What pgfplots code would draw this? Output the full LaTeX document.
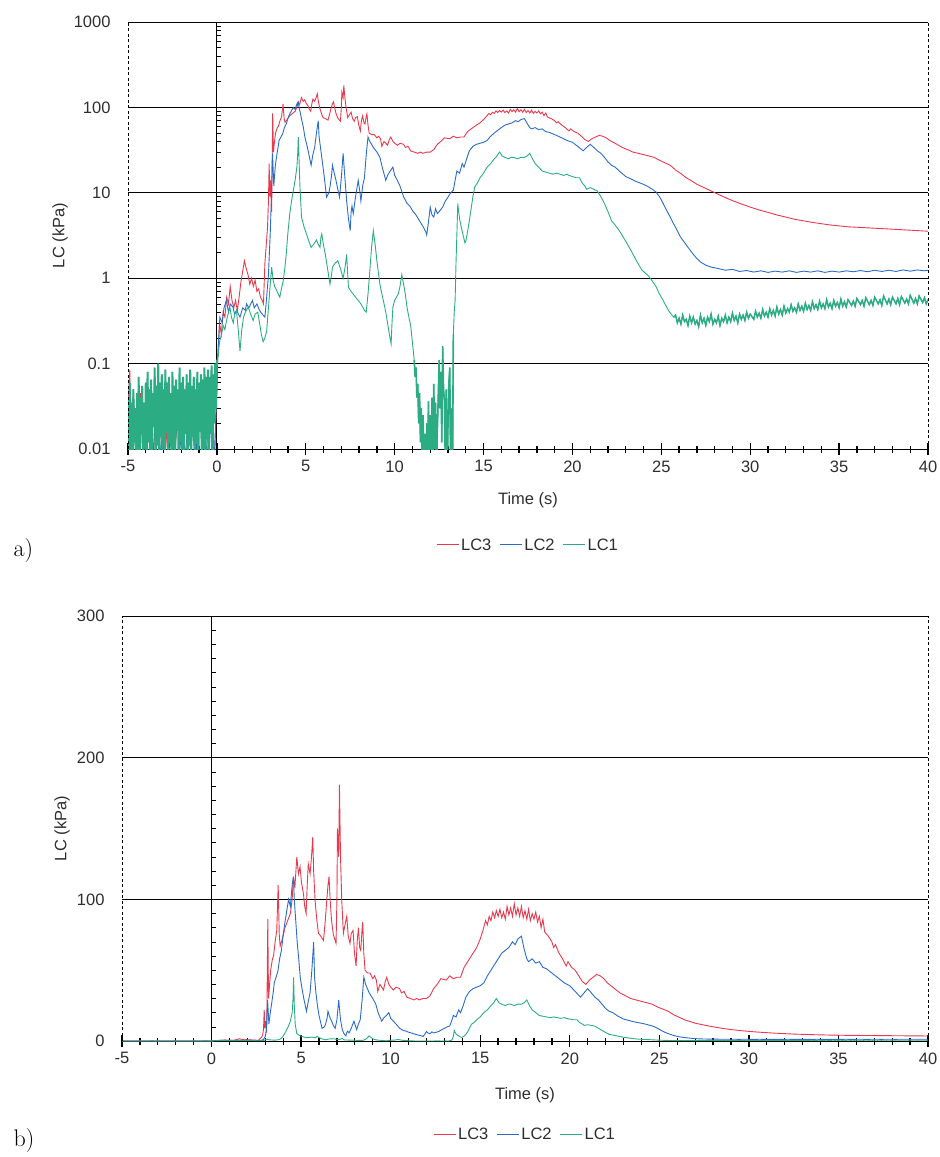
\documentclass[border=0pt]{standalone}
\usepackage{fontspec}
\setsansfont{Liberation Sans}
\usepackage{pgfplots}
\usepackage{pgfplotstable}
\pgfplotsset{compat=1.18}
\definecolor{cred}{RGB}{232,58,78}
\definecolor{cblue}{RGB}{42,108,198}
\definecolor{cgreen}{RGB}{44,172,130}

\pgfplotstableread[row sep=\\]{x y\\
-5.0 0.03\\ -4.9 0.085\\ -4.8 0.004\\ -4.7 0.05\\ -4.5 0.006\\ -4.3 0.045\\ -4.1 0.003\\ -3.9 0.035\\ -3.6 0.008\\ -3.3 0.06\\
-3.0 0.004\\ -2.7 0.04\\ -2.4 0.007\\ -2.1 0.05\\ -1.8 0.003\\ -1.5 0.045\\ -1.2 0.006\\ -0.9 0.055\\ -0.6 0.004\\ -0.3 0.09\\
-0.15 0.005\\ 0.0 0.06\\ 0.05 0.12\\ 0.15 0.3\\ 0.25 0.22\\ 0.35 0.4\\ 0.45 0.35\\ 0.55 0.6\\ 0.65 0.5\\ 0.75 0.8\\
0.85 0.55\\ 0.95 0.45\\ 1.05 0.55\\ 1.15 0.42\\ 1.25 0.6\\ 1.35 0.9\\ 1.45 1.2\\ 1.55 1.6\\ 1.65 1.3\\ 1.75 1.1\\
1.85 0.85\\ 1.95 1.0\\ 2.05 0.8\\ 2.15 0.95\\ 2.25 0.7\\ 2.35 0.75\\ 2.45 0.6\\ 2.55 0.55\\ 2.62 0.5\\ 2.7 1.5\\
2.78 2.5\\ 2.85 4\\ 2.9 8\\ 2.94 22\\ 2.98 9\\ 3.02 14\\ 3.08 6\\ 3.14 86\\ 3.18 30\\ 3.23 38\\
3.3 50\\ 3.4 58\\ 3.46 60\\ 3.55 70\\ 3.64 78\\ 3.72 110\\ 3.78 75\\ 3.83 67\\ 3.95 72\\ 4.1 80\\
4.25 85\\ 4.4 90\\ 4.5 100\\ 4.57 116\\ 4.65 108\\ 4.76 130\\ 4.85 118\\ 4.94 123\\ 5.02 112\\ 5.13 104\\
5.2 95\\ 5.28 90\\ 5.34 110\\ 5.4 125\\ 5.5 118\\ 5.58 130\\ 5.65 144\\ 5.7 120\\ 5.78 99\\ 5.88 85\\
5.97 76\\ 6.1 74\\ 6.25 71\\ 6.35 85\\ 6.43 99\\ 6.5 110\\ 6.56 116\\ 6.62 100\\ 6.7 85\\ 6.8 75\\
6.95 69\\ 7.0 100\\ 7.03 150\\ 7.1 130\\ 7.14 181\\ 7.2 130\\ 7.27 99\\ 7.36 76\\ 7.45 82\\ 7.55 88\\
7.63 74\\ 7.73 69\\ 7.8 76\\ 7.9 78\\ 7.98 62\\ 8.07 53\\ 8.13 70\\ 8.2 80\\ 8.27 66\\ 8.33 64\\
8.4 78\\ 8.44 84\\ 8.5 62\\ 8.57 50\\ 8.7 48\\ 8.85 48\\ 9.0 44\\ 9.1 46\\ 9.2 43\\ 9.28 35\\
9.4 40\\ 9.5 38\\ 9.6 36\\ 9.7 42\\ 9.78 45\\ 9.9 40\\ 10.0 38\\ 10.15 36\\ 10.3 38\\ 10.5 37\\
10.6 34\\ 10.75 35\\ 10.9 31\\ 11.1 30\\ 11.3 29\\ 11.45 30\\ 11.6 29\\ 11.8 30\\ 12.0 30\\ 12.2 32\\
12.4 37\\ 12.6 40\\ 12.8 44\\ 13.1 43\\ 13.3 46\\ 13.5 44\\ 13.7 45\\ 13.9 45\\ 14.1 52\\ 14.25 55\\
14.4 58\\ 14.6 62\\ 14.8 66\\ 15.0 72\\ 15.15 78\\ 15.3 85\\ 15.4 82\\ 15.5 88\\ 15.6 85\\ 15.7 91\\
15.8 87\\ 15.9 92\\ 16.0 88\\ 16.1 93\\ 16.2 87\\ 16.3 91\\ 16.4 86\\ 16.5 95\\ 16.6 89\\ 16.7 94\\
16.8 88\\ 16.9 97\\ 17.0 89\\ 17.1 94\\ 17.2 88\\ 17.3 95\\ 17.4 87\\ 17.5 92\\ 17.6 86\\ 17.7 93\\
17.8 85\\ 17.9 90\\ 18.0 86\\ 18.1 91\\ 18.2 84\\ 18.3 88\\ 18.4 80\\ 18.5 86\\ 18.6 77\\ 18.8 74\\
19.0 70\\ 19.1 66\\ 19.2 68\\ 19.4 62\\ 19.6 58\\ 19.8 53\\ 19.9 56\\ 20.1 52\\ 20.3 50\\ 20.5 46\\
20.7 42\\ 20.9 40\\ 21.1 43\\ 21.3 45\\ 21.5 47\\ 21.7 46\\ 21.9 44\\ 22.1 41\\ 22.3 39\\ 22.5 37\\
22.8 34\\ 23.1 32\\ 23.4 30\\ 23.7 29\\ 24.0 28\\ 24.3 27\\ 24.6 26\\ 24.9 24\\ 25.2 22.5\\ 25.5 21\\
25.8 18.5\\ 26.1 16.8\\ 26.4 15\\ 26.7 13.8\\ 27.0 12.6\\ 27.4 11.5\\ 27.8 10.5\\ 28.2 9.6\\ 28.6 8.8\\ 29.0 8.1\\
29.5 7.4\\ 30.0 6.8\\ 30.5 6.3\\ 31.0 5.9\\ 31.5 5.5\\ 32.0 5.2\\ 32.5 4.9\\ 33.0 4.7\\ 33.5 4.5\\ 34.0 4.35\\
34.5 4.2\\ 35.0 4.1\\ 35.5 4.0\\ 36.0 3.95\\ 36.5 3.9\\ 37.0 3.85\\ 37.5 3.8\\ 38.0 3.75\\ 38.5 3.7\\ 39.0 3.65\\
39.5 3.6\\ 40.0 3.55\\
}\lcthree

\pgfplotstableread[row sep=\\]{x y\\
-5.0 0.01\\ -4.85 0.004\\ -4.6 0.03\\ -4.3 0.005\\ -4.0 0.02\\ -3.7 0.003\\ -3.4 0.04\\ -3.1 0.006\\ -2.8 0.025\\ -2.5 0.004\\
-2.2 0.03\\ -1.9 0.005\\ -1.6 0.02\\ -1.3 0.003\\ -1.0 0.035\\ -0.7 0.005\\ -0.4 0.03\\ -0.2 0.004\\ 0.0 0.05\\ 0.05 0.12\\
0.17 0.35\\ 0.3 0.3\\ 0.4 0.45\\ 0.54 0.55\\ 0.65 0.4\\ 0.75 0.5\\ 0.9 0.46\\ 1.0 0.38\\ 1.1 0.42\\ 1.3 0.35\\
1.45 0.45\\ 1.6 0.42\\ 1.67 0.5\\ 1.8 0.45\\ 2.0 0.55\\ 2.1 0.45\\ 2.25 0.5\\ 2.4 0.42\\ 2.55 0.38\\ 2.7 0.35\\
2.8 0.6\\ 2.9 1.1\\ 3.0 3.3\\ 3.06 8\\ 3.13 29\\ 3.2 12\\ 3.28 20\\ 3.35 26\\ 3.45 35\\ 3.5 41\\
3.6 45\\ 3.7 49\\ 3.8 58\\ 3.9 64\\ 4.0 75\\ 4.1 84\\ 4.2 92\\ 4.3 100\\ 4.4 95\\ 4.5 110\\
4.57 116\\ 4.62 100\\ 4.7 85\\ 4.78 70\\ 4.86 59\\ 4.95 45\\ 5.05 37\\ 5.15 30\\ 5.3 21\\ 5.4 28\\
5.5 34\\ 5.6 50\\ 5.7 70\\ 5.75 45\\ 5.82 35\\ 5.9 26\\ 6.0 18\\ 6.17 8.9\\ 6.3 10\\ 6.36 11.7\\
6.45 16\\ 6.5 21\\ 6.6 17\\ 6.7 14\\ 6.8 11\\ 6.9 8.9\\ 7.0 15\\ 7.1 29\\ 7.2 15\\ 7.3 8\\
7.4 5\\ 7.5 3.6\\ 7.55 6\\ 7.6 7\\ 7.67 5.7\\ 7.8 9\\ 7.95 14\\ 8.05 10\\ 8.1 8\\ 8.2 12\\
8.3 15\\ 8.4 28\\ 8.5 45\\ 8.6 40\\ 8.7 37\\ 8.8 34\\ 9.0 30\\ 9.17 26\\ 9.3 20\\ 9.5 14\\
9.6 16\\ 9.75 18\\ 9.9 20\\ 10.0 16\\ 10.15 14\\ 10.3 12\\ 10.5 9\\ 10.7 7.5\\ 10.85 7\\ 11.0 6.2\\
11.2 5.5\\ 11.4 4.7\\ 11.6 4\\ 11.75 3.5\\ 11.8 3.2\\ 11.9 4.5\\ 12.0 6.8\\ 12.1 5.5\\ 12.2 5.2\\ 12.3 6.5\\
12.4 5.7\\ 12.55 6.2\\ 12.7 6.8\\ 12.85 8\\ 13.0 8.9\\ 13.15 10\\ 13.3 10.7\\ 13.4 14\\ 13.5 18\\ 13.65 17\\
13.8 22\\ 13.9 20\\ 14.05 25\\ 14.2 31\\ 14.4 35\\ 14.6 37\\ 14.8 38\\ 15.0 39\\ 15.2 41\\ 15.4 46\\
15.6 50\\ 15.8 54\\ 16.0 58\\ 16.2 62\\ 16.4 64\\ 16.6 66\\ 16.8 70\\ 16.95 68\\ 17.1 72\\ 17.3 74\\
17.45 65\\ 17.6 58\\ 17.7 56\\ 17.9 58\\ 18.1 55\\ 18.3 56\\ 18.5 52\\ 18.7 51\\ 18.9 49\\ 19.1 47\\
19.3 45\\ 19.5 43\\ 19.7 41\\ 20.0 39\\ 20.3 35\\ 20.6 31\\ 20.8 34\\ 21.0 37\\ 21.2 34\\ 21.4 31\\
21.6 29\\ 21.8 26\\ 22.0 23\\ 22.2 21\\ 22.4 20\\ 22.7 17.5\\ 23.0 15.5\\ 23.3 14.5\\ 23.6 13.5\\ 23.9 12.8\\
24.2 12\\ 24.5 11\\ 24.7 10.2\\ 24.9 9\\ 25.1 7.5\\ 25.3 6.2\\ 25.5 5.2\\ 25.7 4.3\\ 25.9 3.6\\ 26.05 3.1\\
26.2 2.8\\ 26.5 2.3\\ 26.8 1.9\\ 27.0 1.7\\ 27.2 1.55\\ 27.5 1.42\\ 27.8 1.35\\ 28.2 1.3\\ 28.6 1.24\\ 29.0 1.27\\
29.4 1.2\\ 29.8 1.23\\ 30.2 1.18\\ 30.6 1.22\\ 31.0 1.17\\ 31.4 1.21\\ 31.8 1.18\\ 32.2 1.22\\ 32.6 1.17\\ 33.0 1.21\\
33.4 1.18\\ 33.8 1.22\\ 34.2 1.17\\ 34.6 1.21\\ 35.0 1.18\\ 35.4 1.22\\ 35.8 1.19\\ 36.2 1.23\\ 36.6 1.19\\ 37.0 1.24\\
37.4 1.2\\ 37.8 1.24\\ 38.2 1.2\\ 38.6 1.25\\ 39.0 1.21\\ 39.4 1.25\\ 39.8 1.22\\ 40.0 1.24\\
}\lctwo

\pgfplotstableread[row sep=\\]{x y\\
-5.00 0.04\\ -4.95 0.005\\ -4.90 0.06\\ -4.85 0.008\\ -4.80 0.035\\ -4.75 0.004\\ -4.70 0.05\\ -4.65 0.012\\ -4.60 0.03\\ -4.55 0.003\\
-4.50 0.045\\ -4.45 0.009\\ -4.40 0.07\\ -4.35 0.006\\ -4.30 0.04\\ -4.25 0.015\\ -4.20 0.055\\ -4.15 0.004\\ -4.10 0.035\\ -4.05 0.01\\
-4.00 0.06\\ -3.95 0.005\\ -3.90 0.08\\ -3.85 0.012\\ -3.80 0.05\\ -3.75 0.003\\ -3.70 0.065\\ -3.65 0.009\\ -3.60 0.045\\ -3.55 0.018\\
-3.50 0.09\\ -3.45 0.006\\ -3.40 0.055\\ -3.35 0.011\\ -3.30 0.1\\ -3.25 0.004\\ -3.20 0.06\\ -3.15 0.014\\ -3.10 0.075\\ -3.05 0.007\\
-3.00 0.05\\ -2.95 0.003\\ -2.90 0.085\\ -2.85 0.016\\ -2.80 0.06\\ -2.75 0.008\\ -2.70 0.07\\ -2.65 0.012\\ -2.60 0.045\\ -2.55 0.005\\
-2.50 0.08\\ -2.45 0.01\\ -2.40 0.055\\ -2.35 0.004\\ -2.30 0.065\\ -2.25 0.017\\ -2.20 0.05\\ -2.15 0.006\\ -2.10 0.09\\ -2.05 0.012\\
-2.00 0.06\\ -1.95 0.003\\ -1.90 0.07\\ -1.85 0.009\\ -1.80 0.05\\ -1.75 0.015\\ -1.70 0.075\\ -1.65 0.005\\ -1.60 0.06\\ -1.55 0.011\\
-1.50 0.085\\ -1.45 0.004\\ -1.40 0.055\\ -1.35 0.014\\ -1.30 0.07\\ -1.25 0.007\\ -1.20 0.05\\ -1.15 0.012\\ -1.10 0.08\\ -1.05 0.003\\
-1.00 0.06\\ -0.95 0.016\\ -0.90 0.075\\ -0.85 0.006\\ -0.80 0.065\\ -0.75 0.01\\ -0.70 0.09\\ -0.65 0.005\\ -0.60 0.07\\ -0.55 0.013\\
-0.50 0.085\\ -0.45 0.008\\ -0.40 0.07\\ -0.35 0.015\\ -0.30 0.095\\ -0.25 0.006\\ -0.20 0.075\\ -0.15 0.02\\ -0.10 0.1\\ -0.05 0.03\\
0.00 0.11\\ 0.07 0.12\\ 0.15 0.18\\ 0.26 0.22\\ 0.35 0.28\\ 0.45 0.25\\ 0.54 0.32\\ 0.63 0.38\\ 0.73 0.46\\ 0.82 0.35\\
0.92 0.3\\ 1.0 0.38\\ 1.1 0.42\\ 1.2 0.25\\ 1.3 0.14\\ 1.4 0.25\\ 1.5 0.35\\ 1.6 0.4\\ 1.76 0.46\\ 1.9 0.38\\
2.04 0.32\\ 2.15 0.38\\ 2.3 0.4\\ 2.4 0.3\\ 2.5 0.22\\ 2.6 0.18\\ 2.7 0.2\\ 2.8 0.24\\ 2.9 0.45\\ 3.0 0.85\\
3.08 1.35\\ 3.17 0.93\\ 3.25 0.8\\ 3.36 0.72\\ 3.45 0.65\\ 3.54 0.6\\ 3.63 0.75\\ 3.73 0.93\\ 3.82 1.3\\ 3.9 1.9\\
4.0 3.5\\ 4.1 5.7\\ 4.2 8\\ 4.3 10.7\\ 4.4 14\\ 4.5 20\\ 4.55 30\\ 4.58 45\\ 4.62 25\\ 4.67 12\\
4.76 5.2\\ 4.9 4.0\\ 5.04 3.3\\ 5.15 2.8\\ 5.3 2.3\\ 5.45 2.5\\ 5.6 2.8\\ 5.7 2.5\\ 5.8 2.3\\ 5.85 3.0\\
5.9 3.3\\ 6.0 2.4\\ 6.1 1.9\\ 6.2 1.4\\ 6.36 0.85\\ 6.45 1.1\\ 6.5 1.35\\ 6.65 1.5\\ 6.8 1.6\\ 6.95 1.3\\
7.1 1.0\\ 7.2 1.3\\ 7.3 1.9\\ 7.35 1.2\\ 7.4 0.78\\ 7.55 0.7\\ 7.67 0.65\\ 7.8 0.6\\ 7.95 0.55\\ 8.1 0.5\\
8.2 0.46\\ 8.3 0.42\\ 8.4 0.4\\ 8.5 0.65\\ 8.6 1.2\\ 8.7 2.3\\ 8.8 3.6\\ 8.9 2.5\\ 9.0 1.6\\ 9.1 1.1\\
9.17 0.85\\ 9.25 0.7\\ 9.36 0.55\\ 9.45 0.45\\ 9.5 0.4\\ 9.6 0.3\\ 9.7 0.22\\ 9.8 0.17\\ 9.85 0.3\\ 9.9 0.46\\
10.0 0.55\\ 10.1 0.6\\ 10.2 0.65\\ 10.3 0.8\\ 10.4 1.1\\ 10.5 0.85\\ 10.6 0.65\\ 10.7 0.45\\ 10.8 0.35\\ 10.9 0.28\\
10.95 0.22\\ 11.05 0.14\\ 11.1 0.11\\ 11.15 0.07\\ 11.2 0.09\\ 11.25 0.04\\ 11.3 0.058\\ 11.35 0.02\\ 11.4 0.045\\ 11.45 0.012\\
11.5 0.03\\ 11.55 0.006\\ 11.6 0.025\\ 11.65 0.004\\ 11.7 0.015\\ 11.75 0.003\\ 11.8 0.02\\ 11.85 0.006\\ 11.9 0.036\\ 11.95 0.004\\
12.0 0.025\\ 12.05 0.003\\ 12.1 0.04\\ 12.15 0.008\\ 12.2 0.058\\ 12.25 0.01\\ 12.3 0.035\\ 12.35 0.005\\ 12.4 0.016\\ 12.45 0.04\\
12.5 0.11\\ 12.55 0.03\\ 12.6 0.08\\ 12.65 0.012\\ 12.7 0.16\\ 12.75 0.05\\ 12.8 0.036\\ 12.85 0.006\\ 12.9 0.05\\ 12.95 0.003\\
13.0 0.02\\ 13.05 0.06\\ 13.1 0.09\\ 13.15 0.004\\ 13.2 0.03\\ 13.25 0.003\\ 13.3 0.22\\ 13.35 0.4\\ 13.4 0.55\\ 13.45 1.5\\
13.5 3.3\\ 13.55 7.5\\ 13.6 6\\ 13.65 5\\ 13.74 4.0\\ 13.85 3.2\\ 13.95 2.6\\ 14.0 2.7\\ 14.1 3.5\\ 14.2 4.7\\
14.3 6.5\\ 14.4 9\\ 14.5 11.7\\ 14.65 13\\ 14.8 15\\ 15.0 17\\ 15.2 20\\ 15.4 22\\ 15.6 25\\ 15.75 27\\
15.9 30\\ 16.05 27\\ 16.2 26\\ 16.4 25\\ 16.55 26\\ 16.7 26\\ 16.9 25\\ 17.1 26\\ 17.3 26\\ 17.45 27\\
17.6 29\\ 17.75 25\\ 17.9 22\\ 18.1 20\\ 18.3 18\\ 18.5 17.5\\ 18.7 17\\ 18.9 16.5\\ 19.1 17\\ 19.3 16.5\\
19.5 16\\ 19.7 16.5\\ 19.8 16\\ 20.0 15.5\\ 20.2 15\\ 20.4 15\\ 20.55 13\\ 20.7 12\\ 20.8 11\\ 21.0 11.5\\
21.2 11\\ 21.4 10.5\\ 21.6 9\\ 21.8 7.5\\ 22.0 6\\ 22.2 4.7\\ 22.4 4.2\\ 22.6 3.7\\ 22.75 3.3\\ 23.0 2.7\\
23.3 2.1\\ 23.6 1.6\\ 23.9 1.25\\ 24.1 1.15\\ 24.3 1.05\\ 24.5 0.92\\ 24.7 0.8\\ 24.9 0.65\\ 25.1 0.55\\ 25.3 0.46\\
25.4 0.42\\ 25.55 0.38\\ 25.7 0.35\\ 25.8 0.37\\ 25.9 0.30\\ 26.0 0.34\\ 26.1 0.29\\ 26.2 0.37\\ 26.3 0.31\\ 26.4 0.33\\
26.5 0.28\\ 26.6 0.36\\ 26.7 0.30\\ 26.8 0.35\\ 26.9 0.29\\ 27.0 0.32\\ 27.1 0.27\\ 27.2 0.37\\ 27.3 0.30\\ 27.4 0.34\\
27.5 0.28\\ 27.6 0.35\\ 27.7 0.31\\ 27.8 0.38\\ 27.9 0.29\\ 28.0 0.33\\ 28.1 0.30\\ 28.2 0.36\\ 28.3 0.28\\ 28.4 0.34\\
28.5 0.31\\ 28.6 0.37\\ 28.7 0.30\\ 28.8 0.35\\ 28.9 0.31\\ 29.0 0.39\\ 29.1 0.32\\ 29.2 0.36\\ 29.3 0.30\\ 29.4 0.38\\
29.5 0.33\\ 29.6 0.37\\ 29.7 0.32\\ 29.8 0.40\\ 29.9 0.34\\ 30.0 0.38\\ 30.2 0.33\\ 30.3 0.41\\ 30.4 0.35\\ 30.5 0.39\\
30.6 0.34\\ 30.7 0.43\\ 30.8 0.36\\ 30.9 0.40\\ 31.0 0.35\\ 31.1 0.44\\ 31.2 0.37\\ 31.3 0.42\\ 31.4 0.36\\ 31.5 0.46\\
31.6 0.38\\ 31.7 0.43\\ 31.8 0.37\\ 31.9 0.47\\ 32.0 0.39\\ 32.1 0.44\\ 32.2 0.40\\ 32.3 0.49\\ 32.4 0.41\\ 32.5 0.45\\
32.6 0.40\\ 32.7 0.50\\ 32.8 0.42\\ 32.9 0.47\\ 33.0 0.41\\ 33.1 0.51\\ 33.2 0.43\\ 33.3 0.48\\ 33.4 0.42\\ 33.5 0.53\\
33.6 0.44\\ 33.7 0.49\\ 33.8 0.43\\ 33.9 0.54\\ 34.0 0.45\\ 34.1 0.50\\ 34.2 0.44\\ 34.3 0.56\\ 34.4 0.46\\ 34.5 0.51\\
34.6 0.44\\ 34.7 0.55\\ 34.8 0.47\\ 34.9 0.52\\ 35.0 0.45\\ 35.1 0.57\\ 35.2 0.47\\ 35.3 0.53\\ 35.4 0.46\\ 35.5 0.56\\
35.7 0.48\\ 35.8 0.54\\ 35.9 0.47\\ 36.0 0.58\\ 36.2 0.49\\ 36.3 0.55\\ 36.4 0.47\\ 36.5 0.59\\ 36.7 0.49\\ 36.8 0.55\\
36.9 0.48\\ 37.0 0.60\\ 37.2 0.50\\ 37.3 0.56\\ 37.4 0.48\\ 37.5 0.62\\ 37.7 0.50\\ 37.8 0.57\\ 37.9 0.49\\ 38.0 0.60\\
38.2 0.50\\ 38.3 0.58\\ 38.4 0.49\\ 38.5 0.61\\ 38.7 0.51\\ 38.8 0.57\\ 38.9 0.50\\ 39.0 0.63\\ 39.2 0.51\\ 39.3 0.58\\
39.4 0.50\\ 39.5 0.62\\ 39.7 0.52\\ 39.8 0.59\\ 39.9 0.50\\ 40.0 0.56\\
}\lcone

\pgfplotsset{
  lcbase/.style={
    scale only axis,
    xmin=-5, xmax=40,
    xtick={-5,0,...,40},
    minor x tick num=4,
    xtick pos=left, ytick pos=left,
    axis line style={draw=none},
    ymajorgrids,
    major grid style={black, line width=0.9pt},
    xtick style={draw=black, line width=1.3pt},
    ytick style={draw=none},
    tick align=center,
    major tick length=12pt, minor tick length=7pt,
    /pgf/number format/assume math mode=true,
    ticklabel style={font=\sffamily\fontsize{16.5}{18}\selectfont, text=black!82},
    xticklabel style={yshift=-2pt},
    yticklabel style={xshift=-8pt},
    label style={font=\sffamily\fontsize{16.5}{18}\selectfont, text=black!82},
    xlabel={Time (s)}, ylabel={LC (kPa)},
    legend columns=3,
    legend style={draw=none, fill=none, font=\sffamily\fontsize{16.5}{18}\selectfont, text=black!82,
      /tikz/every even column/.append style={column sep=6pt}, inner sep=1pt},
    legend image code/.code={\draw[#1, line width=1pt] (0pt,0pt) -- (22pt,0pt);},
    every axis plot/.append style={line width=0.9pt},
  }
}

\begin{document}
\begin{tikzpicture}
\useasboundingbox (0pt,0pt) rectangle (940pt,-1157pt);

% ---------------- panel a ----------------
\begin{axis}[lcbase, name=pa,
  at={(128pt,-449pt)}, anchor=south west,
  width=800pt, height=427pt,
  ymode=log, ymin=0.01, ymax=1000,
  ytick={0.01,0.1,1,10,100,1000},
  yticklabels={0.01,0.1,1,10,100,1000},
  yminorticks=false,
  xlabel style={at={(axis description cs:0.5,-0.119)}, anchor=center},
  ylabel style={at={(axis description cs:-0.085,0.5)}, anchor=center},
  legend style={at={(0.5,-0.2248)}, anchor=center},
]
\addplot[black, line width=0.8pt, forget plot] coordinates {(0,0.01) (0,1000)};
\pgfplotsinvokeforeach{0.02,0.03,0.04,0.05,0.06,0.07,0.08,0.09,0.2,0.3,0.4,0.5,0.6,0.7,0.8,0.9,2,3,4,5,6,7,8,9,20,30,40,50,60,70,80,90,200,300,400,500,600,700,800,900}{
  \draw[black, line width=0.6pt] (axis cs:0,#1) -- ++(4pt,0pt);
}
\addplot[cred] table {\lcthree};
\addplot[cblue] table {\lctwo};
\addplot[cgreen] table {\lcone};
\addplot[cgreen, line width=2pt, forget plot, restrict x to domain=-5:0] table {\lcone};
\addplot[cgreen, line width=1.6pt, forget plot, restrict x to domain=11.1:13.3] table {\lcone};
\addplot[cgreen, line width=1.4pt, forget plot, restrict x to domain=25.7:40] table {\lcone};
\legend{LC3, LC2, LC1}
\end{axis}

% ---------------- panel b ----------------
\begin{axis}[lcbase, name=pb,
  at={(122pt,-1041pt)}, anchor=south west,
  width=806pt, height=425pt,
  ymin=0, ymax=300,
  ytick={0,100,200,300},
  xlabel style={at={(axis description cs:0.5,-0.127)}, anchor=center},
  ylabel style={at={(axis description cs:-0.0744,0.5)}, anchor=center},
  legend style={at={(0.5,-0.221)}, anchor=center},
]
\addplot[black, line width=0.8pt, forget plot] coordinates {(0,0) (0,300)};
\pgfplotsinvokeforeach{10,20,30,40,50,60,70,80,90,110,120,130,140,150,160,170,180,190,210,220,230,240,250,260,270,280,290}{
  \draw[black, line width=0.6pt] (axis cs:0,#1) -- ++(4pt,0pt);
}
\addplot[cred] table {\lcthree};
\addplot[cblue] table {\lctwo};
\addplot[cgreen] table {\lcone};
\legend{LC3, LC2, LC1}
\end{axis}

\draw[black, line width=0.7pt, dash pattern=on 3pt off 2.5pt] (pa.south west) -- (pa.north west);
\draw[black, line width=0.7pt, dash pattern=on 3pt off 2.5pt] (pa.south east) -- (pa.north east);
\draw[black, line width=0.7pt, dash pattern=on 3pt off 2.5pt] (pb.south west) -- (pb.north west);
\draw[black, line width=0.7pt, dash pattern=on 3pt off 2.5pt] (pb.south east) -- (pb.north east);

\node[anchor=west, font=\rmfamily\fontsize{24}{28}\selectfont] at (10pt,-551pt) {a)};
\node[anchor=west, font=\rmfamily\fontsize{24}{28}\selectfont] at (10pt,-1140pt) {b)};
\end{tikzpicture}
\end{document}
